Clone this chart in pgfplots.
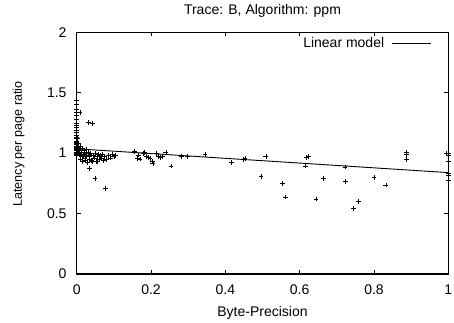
\documentclass[border=0pt]{standalone}
\usepackage{fontspec}
\setmainfont{Liberation Sans}
\usepackage{pgfplots}
\usepackage{pgfplotstable}
\pgfplotsset{compat=1.18}
\pgfplotstableread{
x y
0 1.44
0 1.40
0 1.36
0 1.34
0 1.31
0 1.28
0 1.25
0 1.23
0 1.21
0 1.19
0 1.17
0 1.15
0 1.13
0 1.12
0 1.10
0 1.09
0 1.08
0 1.07
0 1.06
0 1.05
0 1.04
0 1.03
0 1.02
0 1.01
0 1.00
0 0.99
0 0.98
0.002 1.12
0.003 1.08
0.004 1.05
0.005 1.03
0.003 1.00
0.006 0.99
0.008 1.02
0.009 1.339
0.010 1.06
0.012 1.01
0.014 0.97
0.015 1.04
0.018 0.99
0.020 1.02
0.022 0.96
0.025 1.00
0.027 0.98
0.030 1.01
0.031 1.252
0.033 0.95
0.034 0.875
0.036 0.99
0.038 1.00
0.040 0.94
0.043 1.244
0.045 0.98
0.047 0.96
0.049 0.792
0.050 1.00
0.052 0.93
0.055 0.97
0.058 0.99
0.060 0.95
0.063 0.98
0.066 0.96
0.070 0.99
0.072 0.94
0.075 0.97
0.078 0.709
0.080 0.95
0.085 0.98
0.090 0.96
0.095 0.99
0.100 0.97
0.105 0.98
0.010 0.95
0.016 0.93
0.024 0.94
0.028 0.92
0.042 0.93
0.055 0.93
0.006 1.01
0.011 0.98
0.019 0.97
0.026 1.03
0.035 0.97
0.155 1.012
0.166 0.985
0.163 0.958
0.170 0.952
0.179 0.999
0.182 1.005
0.188 0.971
0.193 0.963
0.197 0.958
0.203 0.930
0.205 0.916
0.215 0.999
0.220 0.971
0.226 0.963
0.230 0.971
0.240 1.007
0.254 0.894
0.281 0.971
0.299 0.971
0.345 0.991
0.417 0.921
0.449 0.950
0.453 0.958
0.509 0.971
0.496 0.806
0.553 0.748
0.562 0.637
0.619 0.962
0.623 0.970
0.615 0.894
0.644 0.621
0.665 0.792
0.722 0.886
0.724 0.764
0.758 0.602
0.745 0.544
0.800 0.800
0.832 0.737
0.888 1.004
0.888 0.990
0.887 0.946
0.995 1.000
1.000 0.999
1.000 0.985
1.000 0.935
1.000 0.833
1.000 0.814
1.000 0.778
}\datatable
\begin{document}
\begin{tikzpicture}[x=1pt,y=1pt]
\useasboundingbox (-76.7,-49) rectangle (377.3,274);
\begin{axis}[
  at={(0pt,0pt)}, anchor=south west,
  scale only axis, width=371.6pt, height=241.7pt,
  xmin=0, xmax=1, ymin=0, ymax=2,
  xtick={0,0.2,0.4,0.6,0.8,1},
  ytick={0,0.5,1,1.5,2},
  xticklabels={0,0.2,0.4,0.6,0.8,1},
  yticklabels={0,0.5,1,1.5,2},
  tick align=inside, major tick length=4pt,
  axis line style={line width=1pt},
  every tick/.style={black, line width=0.8pt},
  /pgf/number format/assume math mode=true,
  tick label style={font=\fontsize{14}{16}\selectfont},
  xticklabel style={anchor=center, yshift=-16pt, inner sep=0pt},
  yticklabel style={anchor=east, xshift=-10pt, inner sep=0pt},
  every axis title shift=0pt,
  title={Trace: B, Algorithm: ppm},
  title style={at={(rel axis cs:0.5,1)}, anchor=center, yshift=21.3pt, inner sep=0pt, font=\fontsize{14}{16}\selectfont},
  xlabel={Byte-Precision},
  xlabel style={at={(rel axis cs:0.5,0)}, anchor=center, yshift=-38.5pt, inner sep=0pt, font=\fontsize{14}{16}\selectfont},
  ylabel={Latency per page ratio},
  ylabel style={at={(rel axis cs:0,0.538)}, anchor=center, yshift=58.2pt, inner sep=0pt, font=\fontsize{12.6}{14}\selectfont},
  legend plot pos=right,
  legend cell align=right,
  legend image code/.code={\path (0pt,0pt); \draw[#1] (5.5pt,0pt) -- (44.5pt,0pt);},
  legend style={draw=none, fill=none, at={(rel axis cs:1,1)}, anchor=east, xshift=-16.5pt, yshift=-11pt, inner sep=0pt,
    font=\fontsize{14}{16}\selectfont},
]
\addplot[only marks, mark=+, mark size=2.4pt, black, mark options={line width=0.65pt}, forget plot] table[x=x,y=y] {\datatable};
\addplot[black, line width=0.9pt] coordinates {(0,1.036) (1,0.839)};
\addlegendentry{Linear model}
\end{axis}
\end{tikzpicture}
\end{document}
